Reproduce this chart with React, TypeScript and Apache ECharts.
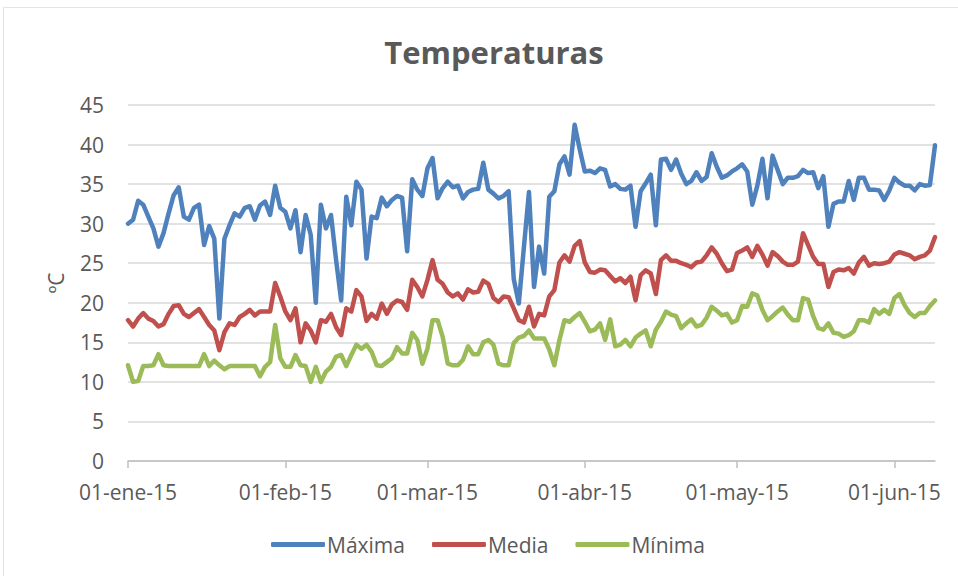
import React, { useEffect, useRef } from "react";
import * as echarts from "echarts";

// Daily values, 01-ene-15 .. 09-jun-15
const maxima = [
  // enero
  30.0, 30.5, 32.9, 32.4, 30.9, 29.4, 27.1, 28.8, 31.3, 33.6, 34.6, 30.9, 30.5, 32.0, 32.4, 27.3,
  29.7, 28.1, 18.0, 28.1, 29.8, 31.3, 30.9, 32.0, 32.2, 30.5, 32.3, 32.8, 31.1, 34.8, 32.0,
  // febrero
  31.5, 29.4, 31.7, 26.4, 31.1, 28.6, 20.0, 32.4, 29.4, 31.1, 25.4, 20.3, 33.4, 29.8, 35.3, 34.3,
  25.6, 30.9, 30.7, 33.3, 32.2, 33.0, 33.5, 33.3, 26.5, 35.6, 34.3, 33.5,
  // marzo
  37.0, 38.3, 33.2, 34.5, 35.3, 34.6, 34.8, 33.2, 34.0, 34.3, 34.4, 37.7, 34.3, 33.8, 33.2, 33.5,
  34.1, 23.0, 19.9, 27.0, 34.0, 22.0, 27.1, 23.7, 33.4, 34.1, 37.5, 38.5, 36.2, 42.5, 39.4,
  // abril
  36.6, 36.7, 36.4, 37.0, 36.8, 34.7, 35.0, 34.4, 34.3, 34.8, 29.6, 34.1, 35.1, 36.2, 29.8, 38.1,
  38.2, 36.8, 38.1, 36.3, 35.0, 35.4, 36.5, 35.4, 35.9, 38.9, 37.2, 35.8, 36.1, 36.6,
  // mayo
  37.0, 37.5, 36.6, 32.4, 34.8, 38.2, 33.2, 38.6, 36.8, 35.0, 35.8, 35.8, 36.0, 36.8, 36.4, 36.5,
  34.5, 36.0, 29.6, 32.5, 32.8, 32.8, 35.4, 33.0, 35.8, 35.8, 34.3, 34.3, 34.2, 33.0, 34.2,
  // junio
  35.8, 35.2, 34.8, 34.8, 34.2, 35.0, 34.8, 34.9, 39.9,
];

const media = [
  // enero
  17.8, 17.0, 18.0, 18.7, 18.0, 17.7, 17.0, 17.3, 18.6, 19.6, 19.7, 18.6, 18.2, 18.7, 19.2, 18.2,
  17.2, 16.5, 14.0, 16.3, 17.4, 17.2, 18.2, 18.6, 19.1, 18.4, 18.9, 18.9, 18.9, 22.5, 20.8,
  // febrero
  18.9, 17.8, 19.3, 15.0, 17.4, 16.5, 15.0, 17.8, 17.6, 18.6, 16.9, 15.9, 19.3, 18.9, 21.6, 20.8,
  17.7, 18.6, 18.0, 19.9, 18.6, 19.8, 20.3, 20.1, 19.1, 22.9, 22.0, 20.8,
  // marzo
  22.9, 25.4, 22.9, 22.4, 21.3, 20.8, 21.2, 20.4, 21.7, 21.3, 21.4, 22.8, 22.4, 20.6, 20.1, 20.8,
  20.7, 19.3, 17.8, 17.5, 19.5, 17.0, 18.6, 18.4, 20.8, 21.6, 25.1, 26.0, 25.2, 27.2, 27.8,
  // abril
  25.1, 23.9, 23.8, 24.2, 24.1, 23.4, 22.7, 23.1, 22.5, 23.3, 20.3, 23.5, 24.1, 23.7, 21.1, 25.4,
  26.0, 25.3, 25.3, 25.0, 24.8, 24.5, 25.1, 25.2, 26.0, 27.0, 26.2, 25.0, 24.0, 24.2,
  // mayo
  26.3, 26.6, 27.0, 25.8, 27.2, 26.1, 24.7, 26.4, 25.9, 25.2, 24.8, 24.8, 25.2, 28.8, 27.3, 25.8,
  24.9, 24.9, 22.0, 23.9, 24.2, 24.1, 24.4, 23.7, 25.1, 25.8, 24.7, 25.0, 24.9, 25.0, 25.2,
  // junio
  26.1, 26.4, 26.2, 26.0, 25.5, 25.8, 26.0, 26.6, 28.3,
];

const minima = [
  // enero
  12.1, 10.0, 10.1, 12.0, 12.0, 12.1, 13.5, 12.1, 12.0, 12.0, 12.0, 12.0, 12.0, 12.0, 12.0, 13.5,
  12.0, 12.7, 12.1, 11.6, 12.0, 12.0, 12.0, 12.0, 12.0, 12.0, 10.7, 11.9, 12.5, 17.2, 13.0,
  // febrero
  11.9, 11.9, 13.4, 12.1, 12.0, 10.0, 11.9, 10.0, 11.3, 11.9, 13.2, 13.4, 12.0, 13.4, 14.7, 14.2,
  14.7, 13.8, 12.1, 12.0, 12.5, 13.0, 14.4, 13.6, 13.6, 16.2, 15.3, 12.3,
  // marzo
  14.2, 17.8, 17.8, 15.7, 12.3, 12.1, 12.1, 12.8, 14.5, 13.5, 13.5, 15.0, 15.3, 14.7, 12.3, 12.1,
  12.1, 14.9, 15.6, 15.8, 16.5, 15.5, 15.5, 15.5, 14.1, 12.1, 15.3, 17.8, 17.6, 18.2, 18.7,
  // abril
  17.6, 16.4, 16.6, 17.4, 15.3, 17.9, 14.5, 14.7, 15.3, 14.5, 15.6, 16.1, 16.5, 14.5, 16.6, 17.6,
  18.9, 18.5, 18.3, 16.8, 17.4, 17.9, 17.0, 17.2, 18.1, 19.5, 19.0, 18.4, 18.6, 17.5,
  // mayo
  17.8, 19.6, 19.5, 21.2, 20.9, 19.1, 17.8, 18.3, 18.9, 19.4, 18.5, 17.8, 17.8, 20.6, 20.4, 18.3,
  16.8, 16.6, 17.4, 16.2, 16.1, 15.7, 15.9, 16.4, 17.8, 17.8, 17.5, 19.2, 18.6, 19.1, 18.6,
  // junio
  20.6, 21.1, 19.7, 18.7, 18.2, 18.7, 18.7, 19.6, 20.3,
];

const seriesNames = ["Máxima", "Media", "Mínima"];
const monthNames = ["ene", "feb", "mar", "abr", "may", "jun"];
const yearSuffix = "15";
const startDateUTC = Date.UTC(2015, 0, 1);

const categories = maxima.map((_, i) => {
  const d = new Date(startDateUTC + i * 86400000);
  return `${String(d.getUTCDate()).padStart(2, "0")}-${monthNames[d.getUTCMonth()]}-${yearSuffix}`;
});
const isMonthStart = (index: number) => categories[index].startsWith("01-");

const FONT = "'Open Sans', 'Noto Sans', sans-serif";
const TEXT = "#595959";

export default function App() {
  const ref = useRef<HTMLDivElement>(null);
  useEffect(() => {
    if (!ref.current) return;
    const chart = echarts.init(ref.current, null, { renderer: "svg" });
    chart.setOption({
      animation: false,
      backgroundColor: "#ffffff",
      title: {
        text: "Temperaturas",
        left: 489,
        textAlign: "center",
        top: 31,
        textStyle: { fontFamily: FONT, fontWeight: "bold", fontSize: 31, color: TEXT },
      },
      graphic: [
        {
          type: "rect",
          shape: { x: 3.5, y: 7.5, width: 1000, height: 600 },
          style: { fill: "none", stroke: "#e3e3e3", lineWidth: 1 },
          silent: true,
        },
      ],
      grid: { left: 128, right: 23, top: 105, bottom: 115, containLabel: false },
      legend: {
        left: 266,
        top: 529,
        icon: "roundRect",
        itemWidth: 54,
        itemHeight: 5,
        itemGap: 27,
        data: seriesNames,
        textStyle: { fontFamily: FONT, fontSize: 21, color: TEXT, padding: [0, 0, 0, -3] },
      },
      xAxis: {
        type: "category",
        data: categories,
        boundaryGap: false,
        axisLine: { lineStyle: { color: "#bfbfbf", width: 1.5 } },
        axisTick: { show: true, interval: (i: number) => isMonthStart(i), length: 7, lineStyle: { color: "#bfbfbf", width: 1.5 } },
        axisLabel: {
          interval: (i: number) => isMonthStart(i),
          color: TEXT,
          fontFamily: FONT,
          fontSize: 21,
          margin: 20,
        },
        splitLine: { show: false },
      },
      yAxis: {
        type: "value",
        min: 0,
        max: 45,
        interval: 5,
        name: "ºC",
        nameLocation: "middle",
        nameRotate: 90,
        nameGap: 62,
        nameTextStyle: { fontFamily: FONT, fontSize: 21, color: TEXT },
        axisLine: { show: false },
        axisTick: { show: false },
        axisLabel: { color: TEXT, fontFamily: FONT, fontSize: 21, margin: 24 },
        splitLine: { lineStyle: { color: "#d9d9d9", width: 1.5 } },
      },
      series: [
        { name: seriesNames[0], data: maxima, color: "#4f81bd" },
        { name: seriesNames[1], data: media, color: "#c0504d" },
        { name: seriesNames[2], data: minima, color: "#9bbb59" },
      ].map((s) => ({
        type: "line",
        name: s.name,
        data: s.data,
        symbol: "none",
        showSymbol: false,
        itemStyle: { color: s.color },
        lineStyle: { color: s.color, width: 4.5, join: "round", cap: "round" },
        emphasis: { disabled: true },
      })),
    });
    return () => chart.dispose();
  }, []);
  return (
    <div
      ref={ref}
      style={{ position: "fixed", left: 0, top: 0, width: 958, height: 576, background: "#fff" }}
    />
  );
}
